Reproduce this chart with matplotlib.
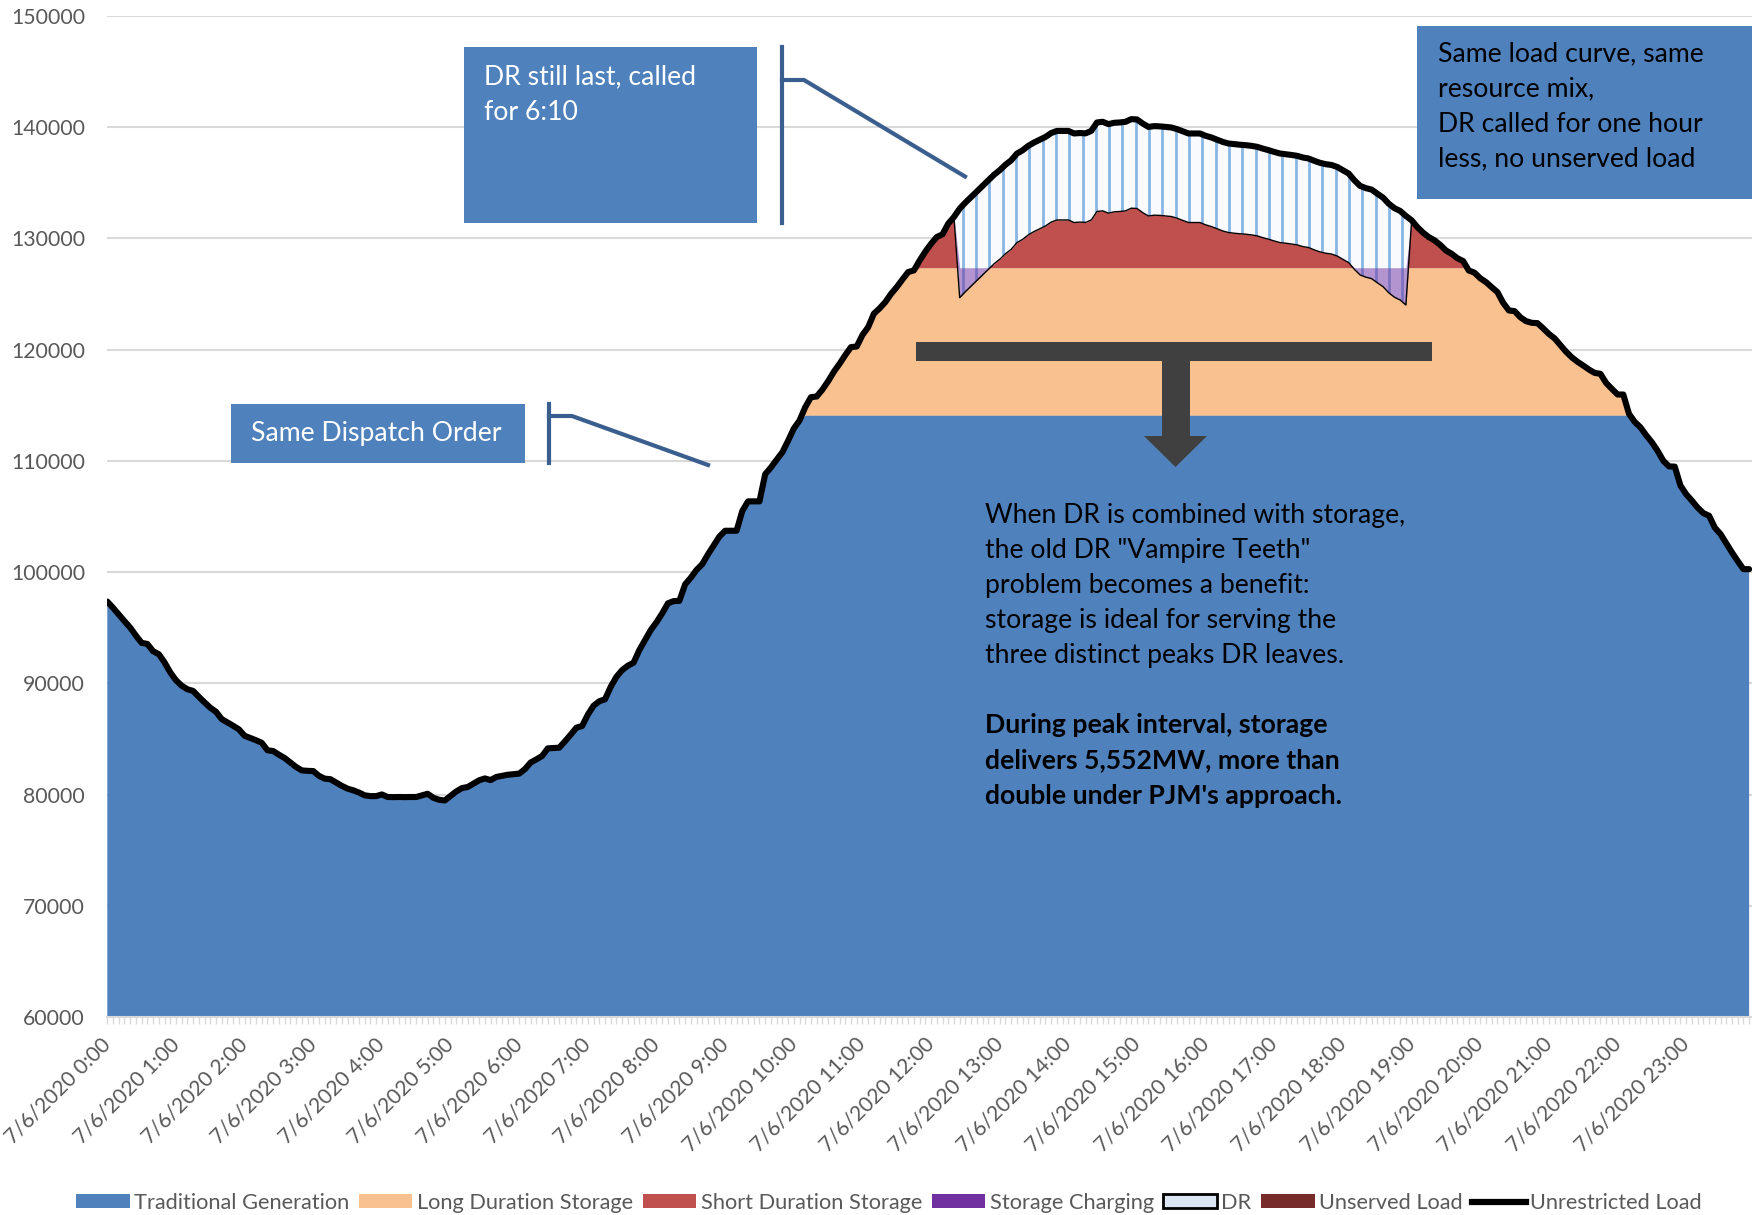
import matplotlib
matplotlib.use('Agg')
import matplotlib.pyplot as plt
import numpy as np
from matplotlib.patches import Rectangle, Polygon, Patch
from matplotlib.lines import Line2D

plt.rcParams['font.family'] = ['Lato', 'DejaVu Sans']

# ---------------- data ----------------
hour_labels = [f"7/6/2020 {h}:00" for h in range(24)]

# Unrestricted load, 5-minute intervals (MW)
load = [
    97360, 96800, 96200, 95600, 95020, 94300, 93650, 93550, 92900, 92630,
    91900, 91000, 90290, 89800, 89480, 89330, 88800, 88300, 87820, 87460,
    86800, 86500, 86200, 85880, 85300, 85100, 84900, 84670, 84000, 83930,
    83600, 83300, 82900, 82500, 82190, 82150, 82130, 81700, 81450, 81400,
    81100, 80800, 80550, 80400, 80200, 79950, 79880, 79880, 80030, 79800,
    79790, 79800, 79790, 79800, 79800, 79950, 80090, 79730, 79550, 79490,
    79900, 80300, 80600, 80700, 81000, 81300, 81470, 81320, 81600, 81700,
    81800, 81850, 81900, 82300, 82900, 83180, 83480, 84170, 84200, 84230,
    84800, 85400, 86030, 86180, 87200, 88000, 88400, 88580, 89700, 90600,
    91200, 91600, 91870, 93000, 93900, 94800, 95500, 96300, 97200, 97400,
    97420, 98900, 99500, 100200, 100720, 101600, 102400, 103200, 103720, 103720,
    103720, 105500, 106360, 106360, 106360, 108800, 109400, 110100, 110770, 111800,
    112900, 113620, 114820, 115720, 115780, 116400, 117150, 118000, 118720, 119500,
    120220, 120270, 121300, 122010, 123220, 123700, 124260, 125000, 125610, 126300,
    126960, 127110, 128000, 128800, 129500, 130110, 130350, 131310, 131910, 132660,
    133200, 133700, 134200, 134700, 135200, 135700, 136110, 136600, 137000, 137600,
    137900, 138300, 138600, 138850, 139100, 139450, 139640, 139640, 139640, 139410,
    139450, 139420, 139640, 140400, 140460, 140250, 140370, 140400, 140460, 140700,
    140670, 140300, 140000, 140070, 140050, 140000, 139950, 139800, 139600, 139410,
    139410, 139410, 139200, 139050, 138850, 138650, 138510, 138450, 138400, 138360,
    138300, 138210, 138050, 137910, 137750, 137610, 137550, 137480, 137400, 137250,
    137160, 136950, 136770, 136650, 136580, 136400, 136100, 135810, 135200, 134700,
    134500, 134370, 134000, 133650, 133100, 132700, 132450, 132000, 131610, 131000,
    130500, 130100, 129810, 129400, 128900, 128600, 128200, 127950, 127100, 126900,
    126400, 126060, 125600, 125160, 124200, 123510, 123450, 122900, 122550, 122400,
    122370, 121900, 121400, 121000, 120400, 119800, 119300, 118900, 118560, 118200,
    117900, 117820, 117000, 116470, 115960, 115960, 114220, 113500, 113010, 112300,
    111670, 110900, 110000, 109500, 109480, 107770, 107000, 106420, 105800, 105300,
    105070, 104000, 103420, 102600, 101770, 101000, 100270, 100270,
]

trad_capacity = 114100      # Traditional Generation ceiling (MW)
long_capacity = 13250       # Long Duration Storage (MW)
dr_amount = 8000            # DR reduction while called (MW)
dr_first, dr_last = 149, 227  # DR called 12:25 .. 18:55
unserved_load = [0] * len(load)

series_names = ["Traditional Generation", "Long Duration Storage", "Short Duration Storage",
                "Storage Charging", "DR", "Unserved Load", "Unrestricted Load"]
colors = {"trad": "#4F81BD", "long": "#F9C090", "short": "#C0504D",
          "charge": "#7030A0", "dr": "#F8FAFD", "drline": "#8AB6E3",
          "unserved": "#772C2A"}

# ---------------- stacking ----------------
n = len(load)
x = np.arange(n)
L = np.array(load, float)
active = (x >= dr_first) & (x <= dr_last)
dr = np.where(active, dr_amount, 0.0)
served = L - dr
trad = np.minimum(L, trad_capacity)
long_ = np.clip(L - trad_capacity, 0, long_capacity)
short = np.clip(served - trad_capacity - long_capacity, 0, None)
charge = np.where(active, np.minimum(served - trad_capacity - long_capacity, 0), 0)
c1 = trad
c2 = c1 + long_
c3 = c2 + short
c4 = c3 + charge
c5 = c4 + dr

# ---------------- figure ----------------
W, H = 1752, 1215
fig = plt.figure(figsize=(W / 100, H / 100), dpi=100)
ax = fig.add_axes([107.3 / W, 1 - 1017.4 / H, (W - 107.3) / W, (1017.4 - 15.6) / H])

ax.fill_between(x, 0, c1, color=colors["trad"], lw=0, zorder=2)
ax.fill_between(x, c1, c2, color=colors["long"], lw=0, zorder=2)
ax.fill_between(x, c2, c3, color=colors["short"], lw=0, zorder=2)

s, e = dr_first - 1, dr_last + 2
drpoly = ax.fill_between(x[s:e], c4[s:e], c5[s:e], facecolor=colors["dr"], lw=0, zorder=3)
vx = np.arange(dr_first + 0.5, dr_last + 1, 2.33)
vl = ax.vlines(vx, 60000, 150000, color=colors["drline"], lw=2.0, zorder=3.1)
vl.set_clip_path(drpoly.get_paths()[0], ax.transData)
ax.fill_between(x[s:e], c3[s:e], c4[s:e], color=colors["charge"], alpha=0.5, lw=0, zorder=3.2)
ax.fill_between(x[s:e], c4[s:e], c5[s:e], facecolor='none', edgecolor='black', lw=1.0, zorder=3.3)

ax.plot(x, L, color='black', lw=4.4, solid_joinstyle='round', solid_capstyle='round', zorder=4)

ax.set_xlim(0, 287.5)
ax.set_ylim(60000, 150000)
ax.set_yticks(np.arange(60000, 150001, 10000))
ax.set_yticklabels([str(v) for v in range(60000, 150001, 10000)])
ax.set_xticks(np.arange(0, n, 12))
ax.set_xticklabels(hour_labels, rotation=45, ha='right', va='center', rotation_mode='anchor')
ax.set_xticks(np.arange(n), minor=True)
ax.yaxis.grid(True, color='#D9D9D9', lw=1.5)
ax.set_axisbelow(True)
for sp in ['top', 'right', 'left']:
    ax.spines[sp].set_visible(False)
ax.spines['bottom'].set_color('#D9D9D9')
ax.spines['bottom'].set_linewidth(1.5)
ax.spines['bottom'].set_zorder(5)
ax.tick_params(axis='y', length=0, pad=16, labelsize=15.3, labelcolor='#595959')
ax.tick_params(axis='x', which='both', length=5, color='#D9D9D9', width=1)
ax.tick_params(axis='x', which='major', pad=12, labelsize=15.2, labelcolor='#595959')
ax.patch.set_alpha(0)

# legend
handles = [Patch(fc=colors["trad"]), Patch(fc=colors["long"]), Patch(fc=colors["short"]),
           Patch(fc=colors["charge"]), Patch(fc='#DCE6F2', ec='black', lw=2),
           Patch(fc=colors["unserved"]), Line2D([], [], color='black', lw=4.5)]
fig.legend(handles, series_names, loc='center', bbox_to_anchor=(889 / W, 1 - 1203 / H),
           ncol=7, frameon=False, fontsize=15.7, handlelength=2.45, handleheight=0.6,
           handletextpad=0.2, columnspacing=0.45, labelcolor='#595959', borderaxespad=0)

# ---------------- annotations (overlay in pixel coords) ----------------
ov = fig.add_axes([0, 0, 1, 1])
ov.set_xlim(0, W)
ov.set_ylim(H, 0)
ov.axis('off')
ov.patch.set_alpha(0)
ov.set_zorder(10)

box = "#4F81BD"
call = "#3A5F8F"
fs = 19.2

ov.add_patch(Rectangle((464, 47), 293, 176, fc=box, ec='none'))
ov.text(484, 77, "DR still last, called", color='white', fontsize=fs, va='center', ha='left')
ov.text(484, 112, "for 6:10", color='white', fontsize=fs, va='center', ha='left')
ov.plot([782, 782], [47, 223], color=call, lw=3)
ov.plot([782, 804, 965], [80, 80, 176.5], color=call, lw=3)

ov.add_patch(Rectangle((231, 404), 294, 59, fc=box, ec='none'))
ov.text(251, 433, "Same Dispatch Order", color='white', fontsize=fs, va='center', ha='left')
ov.plot([549, 549], [404, 463], color=call, lw=3)
ov.plot([549, 572, 708], [416, 416, 465], color=call, lw=3)

ov.add_patch(Rectangle((1417, 26), 340, 173, fc=box, ec='none'))
for i, t in enumerate(["Same load curve, same", "resource mix,",
                       "DR called for one hour", "less, no unserved load"]):
    ov.text(1438, 54 + 35 * i, t, color='black', fontsize=fs, va='center', ha='left')

dark = "#404040"
ov.add_patch(Rectangle((916, 342), 516, 19, fc=dark, ec='none'))
ov.add_patch(Rectangle((1162, 360), 28, 77, fc=dark, ec='none'))
ov.add_patch(Polygon([(1144, 436), (1207, 436), (1175.5, 467)], closed=True, fc=dark, ec='none'))

lines1 = ["When DR is combined with storage,", "the old DR \"Vampire Teeth\"",
          "problem becomes a benefit:", "storage is ideal for serving the",
          "three distinct peaks DR leaves."]
for i, t in enumerate(lines1):
    ov.text(985, 515 + 35.2 * i, t, color='black', fontsize=fs, va='center', ha='left')
lines2 = ["During peak interval, storage", "delivers 5,552MW, more than",
          "double under PJM's approach."]
for i, t in enumerate(lines2):
    ov.text(985, 725 + 35.4 * i, t, color='black', fontsize=fs, va='center', ha='left',
            fontweight='bold')

fig.savefig('out.png', dpi=100)
